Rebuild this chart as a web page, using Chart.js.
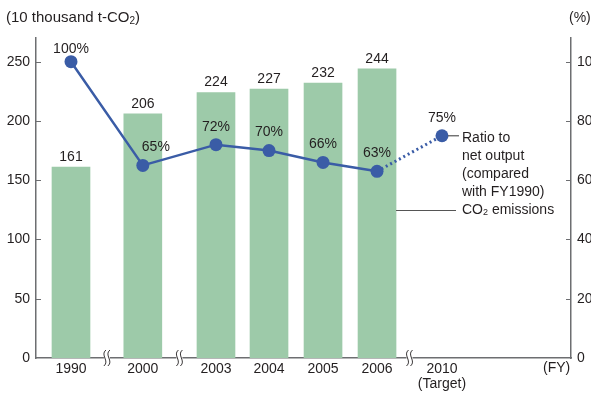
<!DOCTYPE html>
<html>
<head>
<meta charset="utf-8">
<script src="https://cdn.jsdelivr.net/npm/chart.js@4"></script>
<style>
  html, body { margin: 0; padding: 0; background: #fff; }
  #wrap { width: 591px; height: 394px; }
</style>
</head>
<body>
<div id="wrap"><canvas id="co2_chart" width="591" height="394"></canvas></div>
<script>
// data
const years = ['1990', '2000', '2003', '2004', '2005', '2006', '2010'];
const emissions = [161, 206, 224, 227, 232, 244, null];
const ratio = [100, 65, 72, 70, 66, 63, 75];
const leftTicks = [0, 50, 100, 150, 200, 250];
const rightTicks = [0, 20, 40, 60, 80, 100];

// layout: where each year sits on the broken x axis (1 = one year step)
const xSlots = [0, 1.33, 2.685, 3.667, 4.667, 5.667, 6.87];

const FONT = '"Liberation Sans", Arial, sans-serif';
const TEXT = '#231f20';
const AXIS = '#6d6e71';
const BAR = '#9dcaa9';
const LINE = '#3a5ca6';

const barData = years.map((y, i) => ({ x: xSlots[i], y: emissions[i] })).filter(d => d.y !== null);
const lineData = years.map((y, i) => ({ x: xSlots[i], y: ratio[i] }));

function subText(ctx, parts, x, y, size) {
    // parts: [text, isSub]
    var cx = x;
    parts.forEach(p => {
        ctx.font = p[1] ? Math.round(size * 0.65) + 'px ' + FONT : size + 'px ' + FONT;
        ctx.fillText(p[0], cx, p[1] ? y + 3 : y);
        cx += ctx.measureText(p[0]).width;
    });
}

const extras = {
    id: 'extras',
    afterDatasetsDraw(chart) {
        const ctx = chart.ctx;
        const xs = chart.scales.x, yl = chart.scales.y, yr = chart.scales.y1;
        const area = chart.chartArea;
        ctx.save();
        ctx.fillStyle = TEXT;
        ctx.textAlign = 'center';
        ctx.textBaseline = 'middle';
        ctx.font = '14px ' + FONT;

        // bar values
        barData.forEach(d => {
            ctx.fillText(String(d.y), xs.getPixelForValue(d.x), yl.getPixelForValue(d.y) - 10);
        });

        // ratio values
        lineData.forEach((d, i) => {
            var dx = 0, dy = -18;
            if (i === 0) dy = -13;
            if (i === 1) dx = 13;
            ctx.fillText(d.y + '%', xs.getPixelForValue(d.x) + dx, yr.getPixelForValue(d.y) + dy);
        });

        // inward tick marks
        ctx.strokeStyle = AXIS;
        ctx.lineWidth = 1;
        leftTicks.forEach(v => {
            if (v === 0) return;
            var py = Math.round(yl.getPixelForValue(v)) + 0.5;
            ctx.beginPath(); ctx.moveTo(area.left, py); ctx.lineTo(area.left + 5, py); ctx.stroke();
        });
        rightTicks.forEach(v => {
            if (v === 0) return;
            var py = Math.round(yr.getPixelForValue(v)) + 0.5;
            ctx.beginPath(); ctx.moveTo(area.right - 5, py); ctx.lineTo(area.right, py); ctx.stroke();
        });

        // axis breaks
        [[0, 1], [1, 2], [5, 6]].forEach(p => {
            var bx = xs.getPixelForValue((xSlots[p[0]] + xSlots[p[1]]) / 2);
            var by = area.bottom;
            ctx.fillStyle = '#fff';
            ctx.fillRect(bx - 3, by - 3, 6, 6);
            ctx.strokeStyle = TEXT;
            ctx.lineWidth = 0.9;
            [-2, 2].forEach(o => {
                ctx.beginPath();
                ctx.moveTo(bx + o + 1, by - 8);
                ctx.bezierCurveTo(bx + o - 5, by - 3, bx + o + 5, by + 3, bx + o - 1, by + 8);
                ctx.stroke();
            });
        });

        // annotations
        ctx.fillStyle = TEXT;
        ctx.textAlign = 'left';
        ctx.font = '14px ' + FONT;
        var last = lineData[lineData.length - 1];
        var lx = xs.getPixelForValue(last.x), ly = yr.getPixelForValue(last.y);
        ctx.strokeStyle = '#555';
        ctx.lineWidth = 1.2;
        ctx.beginPath(); ctx.moveTo(lx + 6, ly); ctx.lineTo(lx + 17, ly); ctx.stroke();
        ['Ratio to', 'net output', '(compared', 'with FY1990)'].forEach((t, i) => {
            ctx.fillText(t, 462, 138 + i * 18);
        });
        var lastBar = barData[barData.length - 1];
        var bx2 = xs.getPixelForValue(lastBar.x) + 19;
        ctx.beginPath(); ctx.moveTo(bx2, 210.5); ctx.lineTo(456, 210.5); ctx.stroke();
        subText(ctx, [['CO', false], ['2', true], [' emissions', false]], 462, 210, 14);

        // axis titles
        subText(ctx, [['(10 thousand t-CO', false], ['2', true], [')', false]], 6, 18, 15);
        ctx.textAlign = 'left';
        ctx.font = '14px ' + FONT;
        ctx.fillText('(%)', 569, 18);
        ctx.fillText('(FY)', 543, 368);
        ctx.restore();
    }
};

const chart = new Chart(document.getElementById('co2_chart'), {
    type: 'bar',
    data: {
        datasets: [
            {
                type: 'line',
                label: 'Ratio to net output (compared with FY1990)',
                data: lineData,
                yAxisID: 'y1',
                borderColor: LINE,
                backgroundColor: LINE,
                borderWidth: 2.5,
                pointRadius: 6.5,
                pointBackgroundColor: LINE,
                pointBorderWidth: 0,
                tension: 0,
                segment: {
                    borderDash: c => c.p1DataIndex === lineData.length - 1 ? [2, 3] : undefined,
                    borderWidth: c => c.p1DataIndex === lineData.length - 1 ? 3 : undefined
                },
                order: 0
            },
            {
                type: 'bar',
                label: 'CO2 emissions',
                data: barData,
                yAxisID: 'y',
                backgroundColor: BAR,
                barThickness: 38,
                order: 1
            }
        ]
    },
    options: {
        responsive: false,
        animation: false,
        layout: { padding: { top: 38, left: 0, right: 0, bottom: 0 } },
        plugins: { legend: { display: false }, tooltip: { enabled: false } },
        scales: {
            x: {
                type: 'linear',
                offset: false,
                min: -0.648,
                max: 9.259,
                afterBuildTicks: s => { s.ticks = xSlots.map(v => ({ value: v })); },
                afterFit: s => { s.height = 36; },
                grid: { display: false, drawTicks: false, tickLength: 0 },
                border: { display: true, color: AXIS, width: 1.5 },
                ticks: {
                    autoSkip: false,
                    maxRotation: 0,
                    padding: 3,
                    color: TEXT,
                    font: { family: FONT, size: 14, lineHeight: 1.1 },
                    callback: (v, i) => i === years.length - 1 ? [years[i], '(Target)'] : years[i]
                }
            },
            y: {
                position: 'left',
                min: 0,
                max: 270,
                afterBuildTicks: s => { s.ticks = leftTicks.map(v => ({ value: v })); },
                afterFit: s => { s.width = 36; },
                grid: { display: false, drawTicks: false, tickLength: 0 },
                border: { display: true, color: AXIS, width: 1.5 },
                ticks: { padding: 6, color: TEXT, font: { family: FONT, size: 14 } }
            },
            y1: {
                position: 'right',
                min: 0,
                max: 108,
                afterBuildTicks: s => { s.ticks = rightTicks.map(v => ({ value: v })); },
                afterFit: s => { s.width = 20; },
                grid: { display: false, drawTicks: false, tickLength: 0 },
                border: { display: true, color: AXIS, width: 1.5 },
                ticks: { padding: 6, color: TEXT, font: { family: FONT, size: 14 } }
            }
        }
    },
    plugins: [extras]
});
</script>
</body>
</html>
